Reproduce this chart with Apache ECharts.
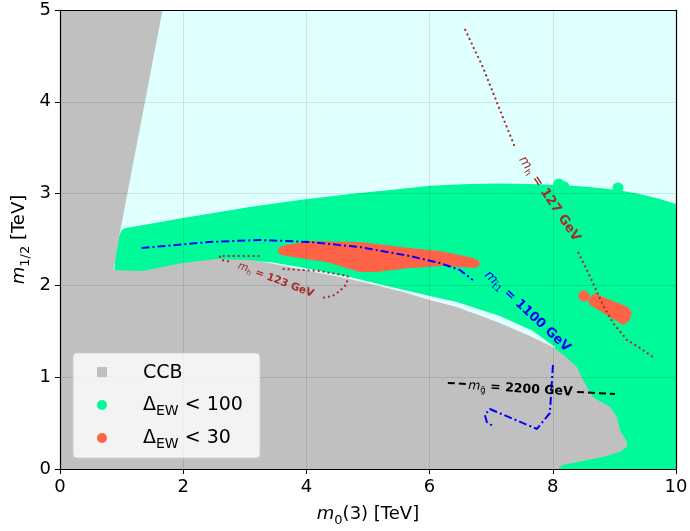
<!DOCTYPE html>
<html><head><meta charset="utf-8">
<script src="https://cdn.jsdelivr.net/npm/echarts@6/dist/echarts.min.js"></script>
<style>html,body{margin:0;padding:0;background:#fff}#c{width:690px;height:531px}</style>
</head><body><div id="c"></div>
<script>
// ---- data (TeV) ----
const xTicks = [0, 2, 4, 6, 8, 10];
const yTicks = [0, 1, 2, 3, 4, 5];

const ccbRegion = [[0,5],[1.665,5],[0.983,2.614],[0.869,2.168],[1.340,2.157],[1.990,2.244],[2.543,2.288],[3.079,2.277],[3.404,2.244],[3.891,2.179],[4.704,2.070],[5.516,1.939],[6.003,1.841],[6.442,1.765],[7.141,1.590],[7.628,1.449],[8.002,1.329],[8.197,1.231],[8.392,1.111],[8.489,0.969],[8.652,0.784],[8.814,0.719],[8.928,0.675],[9.042,0.566],[9.090,0.425],[9.204,0.294],[9.204,0.240],[9.090,0.185],[8.814,0.131],[8.489,0.087],[8.164,0.044],[8.083,0],[0,0]];

const ew100Region = [[0.885,2.190],[0.902,2.331],[0.950,2.516],[0.999,2.603],[1.064,2.625],[1.454,2.669],[1.990,2.734],[2.591,2.800],[3.079,2.854],[3.891,2.930],[4.704,2.996],[5.516,3.050],[6.003,3.085],[6.653,3.105],[7.141,3.110],[7.628,3.105],[8.115,3.094],[8.603,3.072],[9.042,3.039],[9.415,2.996],[9.740,2.941],[10,2.887],[10,0],[8.034,0],[8.034,1.329],[7.677,1.503],[7.141,1.667],[6.442,1.819],[6.003,1.885],[5.516,1.961],[4.704,2.092],[3.891,2.200],[3.404,2.255],[3.079,2.266],[2.543,2.255],[1.990,2.211],[1.340,2.124],[0.885,2.146]];
const ew100Points = [[8.099,3.105],[8.18,3.075],[9.058,3.061]];

const ew30RegionA = [[3.534,2.375],[3.566,2.418],[3.664,2.440],[4.054,2.484],[4.866,2.473],[5.678,2.407],[6.166,2.375],[6.491,2.331],[6.702,2.298],[6.800,2.266],[6.816,2.222],[6.751,2.190],[6.491,2.200],[6.214,2.211],[5.954,2.200],[5.678,2.190],[5.402,2.168],[5.142,2.146],[4.866,2.146],[4.330,2.255],[3.778,2.309],[3.583,2.331]];
const ew30RegionB = [[8.603,1.874],[8.684,1.917],[8.814,1.874],[9.220,1.765],[9.285,1.699],[9.237,1.612],[9.139,1.569],[9.009,1.623],[8.603,1.786],[8.570,1.841]];
const ew30Points = [[8.505,1.885]];

const stopContour = [[1.324,2.407],[2.429,2.473],[3.241,2.495],[4.054,2.473],[4.866,2.418],[5.678,2.320],[6.166,2.244],[6.491,2.168],[6.702,2.059]];
const stopContour2 = [[8.002,1.133],[7.953,0.610],[7.742,0.436],[7.092,0.621],[6.978,0.654],[6.897,0.588],[6.929,0.512],[7.027,0.468]];
const mh127Upper = [[6.572,4.793],[6.864,4.379],[7.141,3.911],[7.384,3.508]];
const mh127Lower = [[8.408,2.364],[8.554,2.168],[8.651,2.026],[8.798,1.808],[8.977,1.590],[9.204,1.405],[9.415,1.318],[9.626,1.220]];
const mh123A = [[3.241,2.320],[2.591,2.320],[2.624,2.277],[2.786,2.255]];
const mh123B = [[3.615,2.179],[4.216,2.157],[4.671,2.102],[4.655,2.015],[4.541,1.939],[4.427,1.885],[4.249,1.863]];
const gluinoLeft = [[6.296,0.937],[6.604,0.926]];
const gluinoRight = [[8.392,0.839],[9.009,0.817]];

const annotations = [
  {pos:[7.945,2.941], text:'{it|m}{sub|h}{b| = 127 GeV}', key:'mh127'},
  {pos:[7.587,1.716], text:'{it|m}{sub|t\u03031}{b| = 1100 GeV}', key:'stop'},
  {pos:[3.501,2.059], text:'{it|m}{sub|h}{b| = 123 GeV}', key:'mh123'},
  {pos:[7.474,0.871], text:'{it|m}{sub|g\u0303}{b| = 2200 GeV}', key:'gluino'}
];

// ---- styles ----
const FONT = 'DejaVu Sans';
const C_CYAN = '#e0ffff', C_GRAY = '#c0c0c0', C_GREEN = '#00fa9a', C_RED = '#ff6347', C_BROWN = '#a52a2a', C_BLUE = '#0000ff';
const annStyle = {
  mh127: {color:C_BROWN, size:13, angle:-56},
  stop: {color:C_BLUE, size:13, angle:-43},
  mh123: {color:C_BROWN, size:10.5, angle:-21},
  gluino: {color:'#000', size:12.5, angle:-3.5}
};

function polySeries(name, verts, color, z) {
  return {
    type:'custom', name, data:verts, encode:{x:0,y:1}, z, silent:true, animation:false, clip:true,
    renderItem:(params, api) => params.dataIndex === 0 ? {
      type:'polygon', shape:{points: verts.map(v => api.coord(v))}, style:{fill:color}
    } : null
  };
}
function lineSeries(data, color, type, width) {
  return {type:'line', data, symbol:'none', showSymbol:false, silent:true, animation:false, z:3,
    lineStyle:{color, width, type, cap:'butt'}};
}

const chart = echarts.init(document.getElementById('c'), null, {renderer:'canvas'});

const axisCommon = {
  min: 0, nameMoveOverlap:false,
  axisLine:{show:true, onZero:false, lineStyle:{color:'#000', width:1.2}},
  axisTick:{show:true, inside:false, length:5, lineStyle:{color:'#000', width:1}},
  axisLabel:{color:'#000', fontSize:18, fontFamily:FONT},
  splitLine:{show:true, lineStyle:{color:'rgba(0,0,0,0.1)', width:1}},
  z:5
};
const nameRich = {
  it:{fontStyle:'italic', fontSize:18, fontFamily:FONT, color:'#000'},
  sub:{fontSize:13, fontFamily:FONT, color:'#000', padding:[12,0,0,0]}
};

chart.setOption({
  animation:false,
  backgroundColor:'#fff',
  grid:{left:60, right:14, top:10, bottom:62, show:true, backgroundColor:C_CYAN, borderWidth:0, containLabel:false, outerBoundsMode:'none'},
  xAxis:[
    Object.assign({}, axisCommon, {type:'value', position:'bottom', max:xTicks[xTicks.length-1], interval:xTicks[1]-xTicks[0],
      axisLabel:Object.assign({}, axisCommon.axisLabel, {margin:9}),
      name:'{it|m}{sub|0}(3) [TeV]', nameLocation:'middle', nameGap:33,
      nameTextStyle:{fontSize:18, fontFamily:FONT, color:'#000', rich:nameRich}}),
    {type:'value', position:'top', min:0, max:xTicks[xTicks.length-1], z:5,
      axisLine:{show:true, onZero:false, lineStyle:{color:'#000', width:1.2}}, axisTick:{show:false}, axisLabel:{show:false}, splitLine:{show:false}}
  ],
  yAxis:[
    Object.assign({}, axisCommon, {type:'value', position:'left', max:yTicks[yTicks.length-1], interval:yTicks[1]-yTicks[0],
      axisLabel:Object.assign({}, axisCommon.axisLabel, {margin:9}),
      name:'{it|m}{sub|1/2} [TeV]', nameLocation:'middle', nameGap:28,
      nameTextStyle:{fontSize:18, fontFamily:FONT, color:'#000', rich:nameRich}}),
    {type:'value', position:'right', min:0, max:yTicks[yTicks.length-1], z:5,
      axisLine:{show:true, onZero:false, lineStyle:{color:'#000', width:1.2}}, axisTick:{show:false}, axisLabel:{show:false}, splitLine:{show:false}}
  ],
  series:[
    polySeries('ΔEW < 100', ew100Region, C_GREEN, 1),
    {type:'scatter', name:'ΔEW < 100 pts', data:ew100Points, symbolSize:11, itemStyle:{color:C_GREEN, opacity:1}, z:1, silent:true, animation:false},
    polySeries('CCB', ccbRegion, C_GRAY, 2),
    polySeries('ΔEW < 30', ew30RegionA, C_RED, 2),
    polySeries('ΔEW < 30 b', ew30RegionB, C_RED, 2),
    {type:'scatter', name:'ΔEW < 30 pts', data:ew30Points, symbolSize:11, itemStyle:{color:C_RED, opacity:1}, z:2, silent:true, animation:false},
    lineSeries(stopContour, C_BLUE, [8,3,2,3], 2),
    lineSeries(stopContour2, C_BLUE, [8,3,2,3], 2),
    lineSeries(mh127Upper, C_BROWN, [2,3], 2),
    lineSeries(mh127Lower, C_BROWN, [2,3], 2),
    lineSeries(mh123A, C_BROWN, [2,3], 2),
    lineSeries(mh123B, C_BROWN, [2,3], 2),
    lineSeries(gluinoLeft, '#000', [7,4], 2),
    lineSeries(gluinoRight, '#000', [7,4], 2),
    {
      type:'custom', name:'labels', data:annotations.map(a => a.pos), encode:{x:0,y:1}, z:10, silent:true, animation:false,
      renderItem:(params, api) => {
        const a = annotations[params.dataIndex];
        const s = annStyle[a.key];
        const p = api.coord(a.pos);
        return {
          type:'text', x:p[0], y:p[1], rotation:s.angle*Math.PI/180,
          style:{
            text:a.text, x:0, y:0, align:'center', verticalAlign:'middle', fill:s.color,
            fontFamily:FONT, fontSize:s.size,
            rich:{
              it:{fontStyle:'italic', fontSize:s.size, fontFamily:FONT, fill:s.color},
              sub:{fontSize:s.size*0.7, fontFamily:FONT, fill:s.color, padding:[s.size*0.6,0,0,0]},
              b:{fontWeight:'bold', fontSize:s.size, fontFamily:FONT, fill:s.color}
            }
          }
        };
      }
    }
  ],
  graphic:[
    {type:'rect', z:100, shape:{x:73, y:353, width:187, height:105, r:4}, style:{fill:'rgba(255,255,255,0.8)', stroke:'rgba(204,204,204,0.8)', lineWidth:1}},
    {type:'rect', z:101, shape:{x:97, y:367, width:10, height:10}, style:{fill:C_GRAY}},
    {type:'circle', z:101, shape:{cx:102, cy:405, r:5}, style:{fill:C_GREEN}},
    {type:'circle', z:101, shape:{cx:102, cy:438, r:5}, style:{fill:C_RED}},
    {type:'text', z:101, x:143, y:373, style:{text:'CCB', fontSize:19, fontFamily:FONT, fill:'#000', verticalAlign:'middle'}},
    {type:'text', z:101, x:143, y:405, style:{text:'Δ{sub|EW} < 100', fontSize:19, fontFamily:FONT, fill:'#000', verticalAlign:'middle',
      rich:{sub:{fontSize:14, fontFamily:FONT, fill:'#000', padding:[13,0,0,0]}}}},
    {type:'text', z:101, x:143, y:438, style:{text:'Δ{sub|EW} < 30', fontSize:19, fontFamily:FONT, fill:'#000', verticalAlign:'middle',
      rich:{sub:{fontSize:14, fontFamily:FONT, fill:'#000', padding:[13,0,0,0]}}}}
  ]
});
</script>
</body></html>
